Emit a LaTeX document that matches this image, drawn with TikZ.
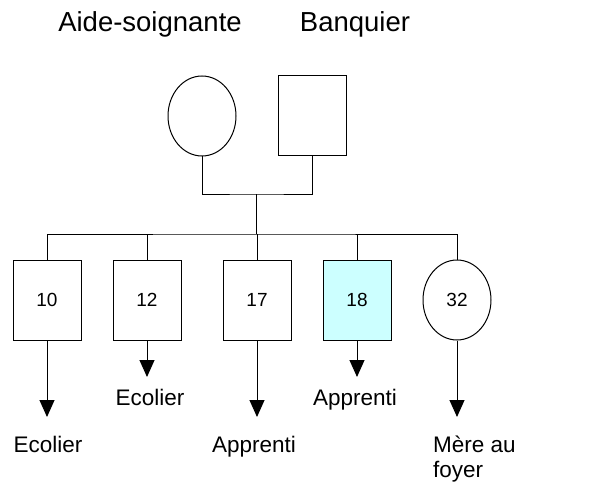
\documentclass[tikz,border=0pt]{standalone}
\usepackage{fontspec}
\setmainfont{Liberation Sans}
\usetikzlibrary{arrows.meta, shapes.geometric, positioning}
\definecolor{egocyan}{HTML}{CCFFFF}
\tikzset{
  man/.style = {draw, line width=1pt, rectangle, minimum width=68pt, minimum height=80pt, inner sep=0pt, font=\fontsize{19}{19}\selectfont},
  woman/.style = {draw, line width=1pt, ellipse, minimum width=68pt, minimum height=80pt, inner sep=0pt, font=\fontsize{19}{19}\selectfont},
  title/.style = {anchor=base, inner sep=0pt, font=\fontsize{27.5}{30}\selectfont},
  job/.style = {anchor=north, inner sep=0pt, font=\fontsize{22.5}{25}\selectfont},
  tie/.style = {line width=1pt},
  career/.style = {line width=1pt, -{Triangle[length=17pt, width=15pt]}}
}

\begin{document}
\begin{tikzpicture}[x=1pt, y=-1pt]

  \useasboundingbox (0,0) rectangle (616,484);

  % Parents
  \node[woman] (mother) at (202,116) {};
  \node[man] (father) at (312,116) {};
  \node[title] (motherjob) at (150,32) {Aide-soignante};
  \node[title] (fatherjob) at (355,32) {Banquier};

  % Children
  \node[man] (c10) at (47,300) {10};
  \node[man] (c12) at (147,300) {12};
  \node[man] (c17) at (257,300) {17};
  \node[man, fill=egocyan] (c18) at (357,300) {18};
  \node[woman] (c32) at (457,300) {32};

  % Family lines
  \coordinate (couple) at (256,194);
  \coordinate (sibs) at (256,234);
  \draw[tie] (mother.south) |- (couple) -| (father.south);
  \draw[tie] (couple) -- (sibs);
  \draw[tie] (c10.north) |- (sibs) -| (c32.north);
  \draw[tie] (c12.north) -- (c12.north |- sibs);
  \draw[tie] (c17.north) -- (c17.north |- sibs);
  \draw[tie] (c18.north) -- (c18.north |- sibs);

  % Careers
  \coordinate (e10) at (47,417);
  \coordinate (e12) at (147,377);
  \coordinate (e17) at (257,417);
  \coordinate (e18) at (357,377);
  \coordinate (e32) at (457,417);
  \draw[career] (c10.south) -- (e10);
  \draw[career] (c12.south) -- (e12);
  \draw[career] (c17.south) -- (e17);
  \draw[career] (c18.south) -- (e18);
  \draw[career] (c32.south) -- (e32);

  \node[job, below=19pt of e10, xshift=1pt] (j10) {Ecolier};
  \node[job, below=12pt of e12, xshift=3pt] (j12) {Ecolier};
  \node[job, below=19pt of e17, xshift=-3pt] (j17) {Apprenti};
  \node[job, below=12pt of e18, xshift=-2pt] (j18) {Apprenti};
  \node[job, anchor=north west, align=left] (j32) at (433,436) {Mère au\\foyer};

\end{tikzpicture}
\end{document}
